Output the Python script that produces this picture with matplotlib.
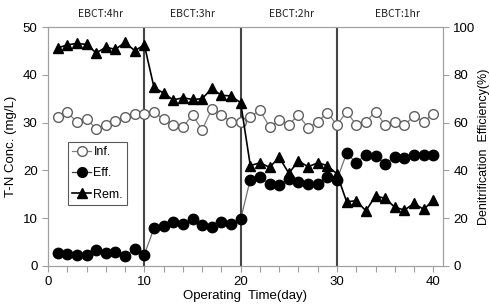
import matplotlib
matplotlib.use("Agg")
import matplotlib.pyplot as plt
from matplotlib.lines import Line2D

# Data
days = list(range(1, 41))
inf_conc = [31.2, 32.2, 30.1, 30.8, 28.7, 29.6, 30.4, 31.2, 31.9, 31.8,
            32.2, 30.7, 29.5, 29.1, 31.6, 28.5, 32.8, 31.7, 30.1, 30.1,
            31.2, 32.6, 29.1, 30.5, 29.6, 31.6, 28.9, 30.2, 32.1, 29.5,
            32.3, 29.5, 30.2, 32.3, 29.5, 30.2, 29.5, 31.4, 30.2, 31.9]
eff_conc = [2.8, 2.5, 2.2, 2.2, 3.3, 2.8, 2.9, 2.1, 3.5, 2.4,
            7.9, 8.4, 9.3, 8.8, 9.8, 8.5, 8.2, 9.2, 8.8, 9.8,
            18.1, 18.6, 17.2, 16.9, 18.3, 17.6, 17.2, 17.2, 18.7, 18.1,
            23.6, 21.6, 23.3, 23.0, 21.3, 22.9, 22.7, 23.3, 23.2, 23.3]
removal = [91.3, 92.5, 93.2, 92.7, 89.2, 91.5, 90.7, 93.6, 90.1, 92.5,
           74.8, 72.3, 69.5, 70.4, 69.7, 70.0, 74.3, 71.4, 71.2, 68.3,
           42.0, 43.2, 41.3, 45.5, 38.8, 44.0, 41.5, 43.2, 42.0, 38.5,
           26.9, 27.3, 23.1, 29.3, 28.3, 24.6, 23.4, 26.2, 23.7, 27.6]
phase_bounds = [10, 20, 30]
phase_labels = ['EBCT:4hr', 'EBCT:3hr', 'EBCT:2hr', 'EBCT:1hr']
phase_label_x = [5.5, 15, 25.3, 36.3]

plt.rcParams['font.family'] = ['Liberation Sans', 'DejaVu Sans']

fig = plt.figure(figsize=(4.9, 3.04), dpi=100)
ax = fig.add_axes([0.098, 0.125, 0.806, 0.786])
ax2 = ax.twinx()

spine_col = '#a0a0a0'
for a in (ax, ax2):
    for s in a.spines.values():
        s.set_color(spine_col)
    a.tick_params(colors=spine_col, labelcolor='black', labelsize=9.5,
                  direction='out', length=4, width=0.8)

for xb in phase_bounds:
    ax.axvline(xb, color='#454545', lw=1.5, zorder=1)

ax.plot(days, inf_conc, '-o', color='#808080', mfc='white', mec='#606060',
        ms=7, lw=0.9, zorder=3)
ax.plot(days, eff_conc, '-o', color='#707070', mfc='black', mec='black',
        ms=7.5, lw=0.9, zorder=3)
ax2.plot(days, removal, '-^', color='black', mfc='black', mec='black',
         ms=7.5, lw=1.2, zorder=3)

ax.set_xlim(0, 41)
ax.set_ylim(0, 50)
ax2.set_ylim(0, 100)
ax.set_xticks([0, 10, 20, 30, 40])
ax.set_xticks(range(2, 41, 2), minor=True)
ax.tick_params(axis='x', which='minor', colors=spine_col, length=4, width=0.8)
ax.set_yticks(range(0, 51, 10))
ax2.set_yticks(range(0, 101, 20))

ax.set_xlabel('Operating  Time(day)', fontsize=9.5, labelpad=1)
ax.set_ylabel('T-N Conc. (mg/L)', fontsize=9.5, labelpad=4)
ax2.set_ylabel('Denitrification  Efficiency(%)', fontsize=9, labelpad=2)

for lx, lab in zip(phase_label_x, phase_labels):
    ax.text(lx, 52.7, lab, ha='center', va='center', fontsize=7.5,
            color='#202020', family=['Noto Sans CJK KR', 'DejaVu Sans'])

handles = [
    Line2D([], [], color='#808080', marker='o', mfc='white', mec='#606060', ms=7, lw=0.9),
    Line2D([], [], color='#404040', marker='o', mfc='black', mec='black', ms=7, lw=0.9),
    Line2D([], [], color='black', marker='^', mfc='black', mec='black', ms=7, lw=1.2),
]
leg = ax2.legend(handles, ['Inf.', 'Eff.', 'Rem.'], loc='upper left',
                 bbox_to_anchor=(0.05, 0.52), fontsize=9, frameon=True,
                 fancybox=False, edgecolor='#303030', handlelength=1.5,
                 handletextpad=0.2, borderpad=0.35, labelspacing=0.75,
                 borderaxespad=0)
leg.get_frame().set_linewidth(0.8)

fig.savefig('out.png', dpi=100)
